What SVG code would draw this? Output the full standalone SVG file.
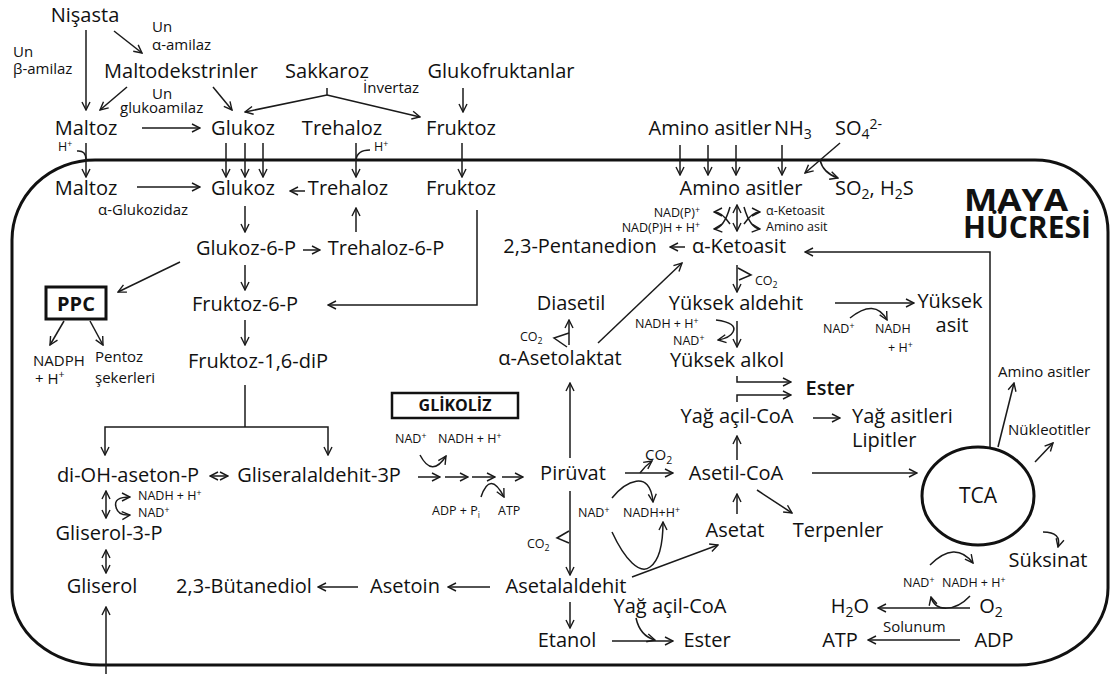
<svg xmlns="http://www.w3.org/2000/svg" width="1112" height="684" viewBox="0 0 1112 684">
<style>
text{font-family:"Open Sans","Liberation Sans",sans-serif;fill:#111}
.m{font-size:20px}
.s{font-size:15px}
.x{font-size:12.5px}
.b{font-weight:bold}
.c{fill:none;stroke:#1a1a1a;stroke-width:1.5}
.a{marker-end:url(#ah)}
.d{marker-start:url(#ah);marker-end:url(#ah)}
.box{fill:#fff;stroke:#111}
.sub{font-size:70%;baseline-shift:-4px}
.sup{font-size:70%;baseline-shift:6px}
.x .sub{baseline-shift:-3px}
.x .sup{baseline-shift:4px}
</style>
<defs>
<marker id="ah" viewBox="0 0 10 10" refX="9" refY="5" markerWidth="10" markerHeight="10" markerUnits="userSpaceOnUse" orient="auto-start-reverse">
<path d="M1,1 L9,5 L1,9" fill="none" stroke="#1a1a1a" stroke-width="1.4"/>
</marker>
</defs>
<rect width="1112" height="684" fill="#fff"/>
<g id="membrane">
<path d="M95,160 H1035 A73,72 0 0 1 1108,232 V588 A90,77 0 0 1 1018,665 H100 A88,73 0 0 1 12,592 V240 A83,80 0 0 1 95,160 Z" fill="none" stroke="#111" stroke-width="3"/>
<text class="b" x="964" y="211" style="font-size:30px" textLength="104" lengthAdjust="spacingAndGlyphs">MAYA</text>
<text class="b" x="1027" y="238" style="font-size:30px" text-anchor="middle">HÜCRESİ</text>
</g>
<g id="connectors">
<path class="c a" d="M86,30 V110"/>
<path class="c a" d="M114,31 L142,53"/>
<path class="c a" d="M127,87 L100,110"/>
<path class="c a" d="M213,87 L232,110"/>
<path class="c" d="M327,88 V95"/>
<path class="c a" d="M327,95 L245,112"/>
<path class="c a" d="M327,95 L420,117"/>
<path class="c a" d="M463,88 V112"/>
<path class="c a" d="M142,128 H200"/>
<path class="c a" d="M86,143 V177"/>
<path class="c" d="M77,151 Q86,150 86,160"/>
<path class="c a" d="M226,143 V177"/>
<path class="c a" d="M245,143 V177"/>
<path class="c a" d="M263,143 V177"/>
<path class="c a" d="M356,143 V177"/>
<path class="c" d="M370,150 Q357,150 356,160"/>
<path class="c a" d="M462,143 V177"/>
<path class="c a" d="M680,145 V175"/>
<path class="c a" d="M708,145 V175"/>
<path class="c a" d="M736,145 V175"/>
<path class="c a" d="M782,145 V175"/>
<path class="c a" d="M840,143 L805,173"/>
<path class="c a" d="M820,160 Q823,173 838,178"/>
<path class="c a" d="M137,187 H200"/>
<path class="c a" d="M305,191 H290"/>
<path class="c a" d="M245,206 V232"/>
<path class="c a" d="M356,232 V208"/>
<path class="c a" d="M303,250 H320"/>
<path class="c a" d="M180,262 L118,292"/>
<path class="c a" d="M64,321 L50,345"/>
<path class="c a" d="M90,321 L103,345"/>
<path class="c a" d="M245,265 V290"/>
<path class="c a" d="M477,210 V305 H328"/>
<path class="c a" d="M245,320 V345"/>
<path class="c" d="M245,385 V427"/>
<path class="c a" d="M245,427 H105 V455"/>
<path class="c a" d="M245,427 H328 V455"/>
<path class="c d" d="M210,476 H228"/>
<path class="c d" d="M106,491 V518"/>
<path class="c a" d="M116,507 Q113,497 130,497"/>
<path class="c a" d="M116,507 Q118,516 130,515"/>
<path class="c d" d="M106,550 V573"/>
<path class="c a" d="M106,674 V607"/>
<path class="c a" d="M358,587 H318"/>
<path class="c a" d="M490,587 H448"/>
<path class="c a" d="M420,455 Q432,478 446,456"/>
<path class="c a" d="M418,477 H440"/>
<path class="c a" d="M445,477 H468"/>
<path class="c a" d="M472,477 H495"/>
<path class="c a" d="M502,477 H523"/>
<path class="c a" d="M481,497 Q490,470 504,497"/>
<path class="c a" d="M570,458 V383"/>
<path class="c a" d="M570,491 V575"/>
<path class="c" d="M569,531 L557,538 L569,543"/>
<path class="c a" d="M625,473 H673"/>
<path class="c a" d="M640,473 Q645,466 652,461"/>
<path class="c a" d="M612,498 C625,482 650,468 653,502"/>
<path class="c a" d="M612,532 C625,560 640,575 650,567 C660,560 663,540 663,522"/>
<path class="c a" d="M632,577 L718,545"/>
<path class="c a" d="M570,602 V628"/>
<path class="c a" d="M612,641 H673"/>
<path class="c a" d="M636,618 Q640,636 655,640"/>
<path class="c a" d="M737,514 V494"/>
<path class="c a" d="M757,490 L792,513"/>
<path class="c a" d="M812,473 H917"/>
<path class="c a" d="M737,460 V436"/>
<path class="c a" d="M813,418 H840"/>
<path class="c a" d="M990,448 V252 H805"/>
<path class="c a" d="M998,447 L1014,383"/>
<path class="c a" d="M1035,462 L1053,443"/>
<path class="c a" d="M1043,532 Q1062,532 1058,547"/>
<path class="c a" d="M930,565 Q955,540 973,563"/>
<path class="c a" d="M970,608 H878"/>
<path class="c a" d="M970,596 C955,612 935,612 931,597"/>
<path class="c a" d="M960,640 H868"/>
<path class="c d" d="M737,205 V231"/>
<path class="c a" d="M730,224 Q722,212 714,212"/>
<path class="c a" d="M730,207 Q724,228 714,229"/>
<path class="c a" d="M744,224 Q752,212 760,212"/>
<path class="c a" d="M744,207 Q750,228 760,229"/>
<path class="c a" d="M685,247 H670"/>
<path class="c a" d="M598,343 L682,263"/>
<path class="c a" d="M737,265 V292"/>
<path class="c" d="M738,268 L751,275 L739,280"/>
<path class="c a" d="M835,303 H914"/>
<path class="c a" d="M850,318 Q875,298 887,320"/>
<path class="c a" d="M737,321 V347"/>
<path class="c a" d="M716,320 Q738,323 733,332 Q730,338 718,340"/>
<path class="c a" d="M737,376 V382 H791"/>
<path class="c a" d="M737,402 V395 H791"/>
<path class="c a" d="M569,345 V320"/>
<path class="c" d="M569,333 L554,338 L567,347"/>
</g>
<g id="outside">
<text class="m" x="85" y="22" text-anchor="middle">Nişasta</text>
<text class="s" x="152" y="32">Un</text>
<text class="s" x="152" y="50">α-amilaz</text>
<text class="s" x="13" y="57">Un</text>
<text class="s" x="13" y="74">β-amilaz</text>
<text class="m" x="181" y="78" text-anchor="middle">Maltodekstrinler</text>
<text class="s" x="152" y="99">Un</text>
<text class="s" x="120" y="113">glukoamilaz</text>
<text class="m" x="327" y="78" text-anchor="middle">Sakkaroz</text>
<text class="s" x="363" y="93">İnvertaz</text>
<text class="m" x="501" y="78" text-anchor="middle">Glukofruktanlar</text>
<text class="m" x="86" y="135" text-anchor="middle">Maltoz</text>
<text class="m" x="243" y="135" text-anchor="middle">Glukoz</text>
<text class="m" x="342" y="135" text-anchor="middle">Trehaloz</text>
<text class="m" x="461" y="135" text-anchor="middle">Fruktoz</text>
<text class="x" x="58" y="151">H<tspan class="sup">+</tspan></text>
<text class="x" x="374" y="151">H<tspan class="sup">+</tspan></text>
<text class="m" x="710" y="135" text-anchor="middle">Amino asitler</text>
<text class="m" x="774" y="135">NH<tspan class="sub">3</tspan></text>
<text class="m" x="835" y="135">SO<tspan class="sub">4</tspan><tspan class="sup">2-</tspan></text>
</g>
<g id="sugars">
<text class="m" x="86" y="195" text-anchor="middle">Maltoz</text>
<text class="m" x="243" y="195" text-anchor="middle">Glukoz</text>
<text class="s" x="98" y="215">α-Glukozidaz</text>
<text class="m" x="348" y="195" text-anchor="middle">Trehaloz</text>
<text class="m" x="461" y="195" text-anchor="middle">Fruktoz</text>
<text class="m" x="246" y="255" text-anchor="middle">Glukoz-6-P</text>
<text class="m" x="386" y="255" text-anchor="middle">Trehaloz-6-P</text>
<text class="m" x="245" y="311" text-anchor="middle">Fruktoz-6-P</text>
<text class="m" x="258" y="368" text-anchor="middle">Fruktoz-1,6-diP</text>
</g>
<g id="ppc">
<rect class="box" x="46" y="287" width="60" height="32" stroke-width="3"/>
<text class="b" x="76" y="311" text-anchor="middle" style="font-size:20px">PPC</text>
<text class="s" x="33" y="366">NADPH</text>
<text class="s" x="35" y="384">+ H<tspan class="sup">+</tspan></text>
<text class="s" x="95" y="362">Pentoz</text>
<text class="s" x="95" y="383">şekerleri</text>
</g>
<g id="glycerol">
<text class="m" x="128" y="482" text-anchor="middle">di-OH-aseton-P</text>
<text class="m" x="319" y="482" text-anchor="middle">Gliseralaldehit-3P</text>
<text class="x" x="138" y="500">NADH + H<tspan class="sup">+</tspan></text>
<text class="x" x="138" y="517">NAD<tspan class="sup">+</tspan></text>
<text class="m" x="109" y="540" text-anchor="middle">Gliserol-3-P</text>
<text class="m" x="102" y="593" text-anchor="middle">Gliserol</text>
<text class="m" x="244" y="593" text-anchor="middle">2,3-Bütanediol</text>
<text class="m" x="405" y="593" text-anchor="middle">Asetoin</text>
</g>
<g id="glikoliz">
<rect class="box" x="392" y="393" width="126" height="25" stroke-width="2.5"/>
<text class="b" x="455" y="411" text-anchor="middle" style="font-size:16px">GLİKOLİZ</text>
<text class="x" x="395" y="443">NAD<tspan class="sup">+</tspan></text>
<text class="x" x="438" y="443">NADH + H<tspan class="sup">+</tspan></text>
<text class="x" x="432" y="515">ADP + P<tspan class="sub">i</tspan></text>
<text class="x" x="498" y="515">ATP</text>
</g>
<g id="pyruvate">
<text class="m" x="573" y="480" text-anchor="middle">Pirüvat</text>
<text class="s" x="645" y="460">CO<tspan class="sub">2</tspan></text>
<text class="x" x="578" y="517">NAD<tspan class="sup">+</tspan></text>
<text class="x" x="623" y="517">NADH+H<tspan class="sup">+</tspan></text>
<text class="x" x="527" y="548">CO<tspan class="sub">2</tspan></text>
<text class="m" x="566" y="593" text-anchor="middle">Asetalaldehit</text>
<text class="m" x="567" y="647" text-anchor="middle">Etanol</text>
<text class="m" x="670" y="613" text-anchor="middle">Yağ açil-CoA</text>
<text class="m" x="707" y="647" text-anchor="middle">Ester</text>
</g>
<g id="acetyl">
<text class="m" x="736" y="480" text-anchor="middle">Asetil-CoA</text>
<text class="m" x="735" y="537" text-anchor="middle">Asetat</text>
<text class="m" x="838" y="537" text-anchor="middle">Terpenler</text>
<text class="m" x="737" y="423" text-anchor="middle">Yağ açil-CoA</text>
<text class="m" x="852" y="423">Yağ asitleri</text>
<text class="m" x="852" y="447">Lipitler</text>
</g>
<g id="aminoacids">
<text class="m" x="741" y="195" text-anchor="middle">Amino asitler</text>
<text class="m" x="835" y="195">SO<tspan class="sub">2</tspan>, H<tspan class="sub">2</tspan>S</text>
<text class="x" x="700" y="217" text-anchor="end">NAD(P)<tspan class="sup">+</tspan></text>
<text class="x" x="700" y="232" text-anchor="end">NAD(P)H + H<tspan class="sup">+</tspan></text>
<text class="x" x="766" y="215">α-Ketoasit</text>
<text class="x" x="766" y="231">Amino asit</text>
<text class="m" x="580" y="253" text-anchor="middle">2,3-Pentanedion</text>
<text class="m" x="739" y="253" text-anchor="middle">α-Ketoasit</text>
<text class="x" x="755" y="285">CO<tspan class="sub">2</tspan></text>
<text class="m" x="736" y="310" text-anchor="middle">Yüksek aldehit</text>
<text class="m" x="950" y="308" text-anchor="middle">Yüksek</text>
<text class="m" x="952" y="332" text-anchor="middle">asit</text>
<text class="x" x="823" y="333">NAD<tspan class="sup">+</tspan></text>
<text class="x" x="875" y="333">NADH</text>
<text class="x" x="888" y="352">+ H<tspan class="sup">+</tspan></text>
<text class="x" x="635" y="328">NADH + H<tspan class="sup">+</tspan></text>
<text class="x" x="673" y="345">NAD<tspan class="sup">+</tspan></text>
<text class="m" x="727" y="367" text-anchor="middle">Yüksek alkol</text>
<text class="m" x="830" y="395" text-anchor="middle" font-weight="600">Ester</text>
</g>
<g id="diacetyl">
<text class="m" x="571" y="310" text-anchor="middle">Diasetil</text>
<text class="x" x="520" y="341">CO<tspan class="sub">2</tspan></text>
<text class="m" x="560" y="365" text-anchor="middle">α-Asetolaktat</text>
</g>
<g id="tca">
<ellipse cx="978" cy="496" rx="56" ry="49" fill="none" stroke="#111" stroke-width="3"/>
<text x="978" y="503" text-anchor="middle" style="font-size:21px">TCA</text>
<text class="s" x="998" y="377">Amino asitler</text>
<text class="s" x="1008" y="435">Nükleotitler</text>
<text class="m" x="1048" y="567" text-anchor="middle">Süksinat</text>
<text class="x" x="903" y="587">NAD<tspan class="sup">+</tspan></text>
<text class="x" x="942" y="587">NADH + H<tspan class="sup">+</tspan></text>
<text class="m" x="850" y="613" text-anchor="middle">H<tspan class="sub">2</tspan>O</text>
<text class="m" x="991" y="613" text-anchor="middle">O<tspan class="sub">2</tspan></text>
<text class="s" x="883" y="632">Solunum</text>
<text class="m" x="840" y="647" text-anchor="middle">ATP</text>
<text class="m" x="994" y="647" text-anchor="middle">ADP</text>
</g>
</svg>
